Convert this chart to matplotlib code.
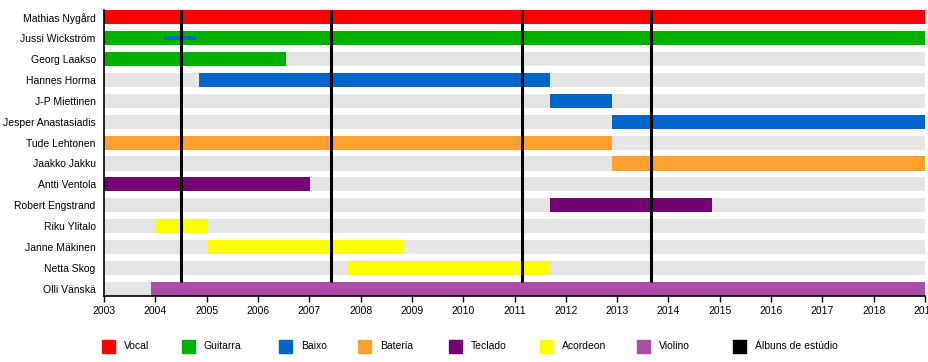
import matplotlib.pyplot as plt
from matplotlib.patches import Rectangle

plt.rcParams['font.family'] = ['Liberation Sans', 'DejaVu Sans']

members = ['Mathias Nygård', 'Jussi Wickström', 'Georg Laakso', 'Hannes Horma',
           'J-P Miettinen', 'Jesper Anastasiadis', 'Tude Lehtonen', 'Jaakko Jakku',
           'Antti Ventola', 'Robert Engstrand', 'Riku Ylitalo', 'Janne Mäkinen',
           'Netta Skog', 'Olli Vänskä']

roles = ['Vocal', 'Guitarra', 'Baixo', 'Bateria', 'Teclado', 'Acordeon', 'Violino']
role_colors = ['#ff0000', '#00b000', '#0066cc', '#ffa030', '#750075', '#ffff00', '#aa4eaa']

# (member, role, start, end)
spells = [
    ('Mathias Nygård', 'Vocal', 2003.0, 2019.0),
    ('Jussi Wickström', 'Guitarra', 2003.0, 2019.0),
    ('Georg Laakso', 'Guitarra', 2003.0, 2006.55),
    ('Hannes Horma', 'Baixo', 2004.85, 2011.69),
    ('J-P Miettinen', 'Baixo', 2011.69, 2012.9),
    ('Jesper Anastasiadis', 'Baixo', 2012.9, 2019.0),
    ('Tude Lehtonen', 'Bateria', 2003.0, 2012.9),
    ('Jaakko Jakku', 'Bateria', 2012.9, 2019.0),
    ('Antti Ventola', 'Teclado', 2003.0, 2007.02),
    ('Robert Engstrand', 'Teclado', 2011.69, 2014.85),
    ('Riku Ylitalo', 'Acordeon', 2004.0, 2005.03),
    ('Janne Mäkinen', 'Acordeon', 2005.03, 2008.85),
    ('Netta Skog', 'Acordeon', 2007.76, 2011.69),
    ('Olli Vänskä', 'Violino', 2003.92, 2019.0),
]
# secondary (thin) bars
thin_spells = [
    ('Jussi Wickström', 'Baixo', 2004.17, 2004.8),
]

albums = [2004.5, 2007.42, 2011.15, 2013.66]

start_year = 2003
end_year = 2019
years = list(range(start_year, end_year + 1))


def main():
    fig = plt.figure(figsize=(9.29, 3.62), dpi=100)
    ax = fig.add_axes([104 / 929, 66 / 362, 821 / 929, 290 / 362])

    n = len(members)
    bar_h = 0.67
    color_of = dict(zip(roles, role_colors))

    for i, m in enumerate(members):
        ax.barh(i, end_year - start_year, left=start_year, height=bar_h,
                color='#e5e5e5', zorder=1)

    for m, r, s, e in spells:
        i = members.index(m)
        ax.barh(i, e - s, left=s, height=bar_h, color=color_of[r], zorder=2)

    for m, r, s, e in thin_spells:
        i = members.index(m)
        ax.barh(i, e - s, left=s, height=0.17, color=color_of[r], zorder=3)

    ax.vlines(albums, -0.33, n - 1 - bar_h / 2, colors='black', linewidth=2.2, zorder=4)

    ax.set_xlim(start_year, end_year)
    ax.set_ylim(n - 1 + 0.335, -0.53)
    ax.set_yticks(range(n))
    ax.set_yticklabels(members, fontsize=7.5)
    ax.tick_params(axis='y', length=0, pad=6)
    ax.set_xticks(years)
    ax.set_xticklabels([str(y) for y in years], fontsize=7.5)
    ax.tick_params(axis='x', length=4, width=1, pad=3)

    for side in ['top', 'right']:
        ax.spines[side].set_visible(False)
    ax.spines['left'].set_linewidth(1.2)
    ax.spines['left'].set_bounds(n - 1 + 0.335, -0.35)
    ax.spines['bottom'].set_linewidth(1.2)

    # legend
    labels = roles + ['Álbuns de estúdio']
    colors = role_colors + ['black']
    xs = [102, 182, 279, 358, 449, 540, 637, 733]
    y0 = 16 / 362
    sq_w = 13 / 929
    sq_h = 13 / 362
    for x, lab, c in zip(xs, labels, colors):
        fig.patches.append(Rectangle((x / 929, y0 - sq_h / 2), sq_w, sq_h,
                                     transform=fig.transFigure, color=c))
        fig.text((x + 22) / 929, y0, lab, fontsize=7.5, va='center', ha='left')

    fig.savefig('out.png', dpi=100)


if __name__ == "__main__":
    main()
